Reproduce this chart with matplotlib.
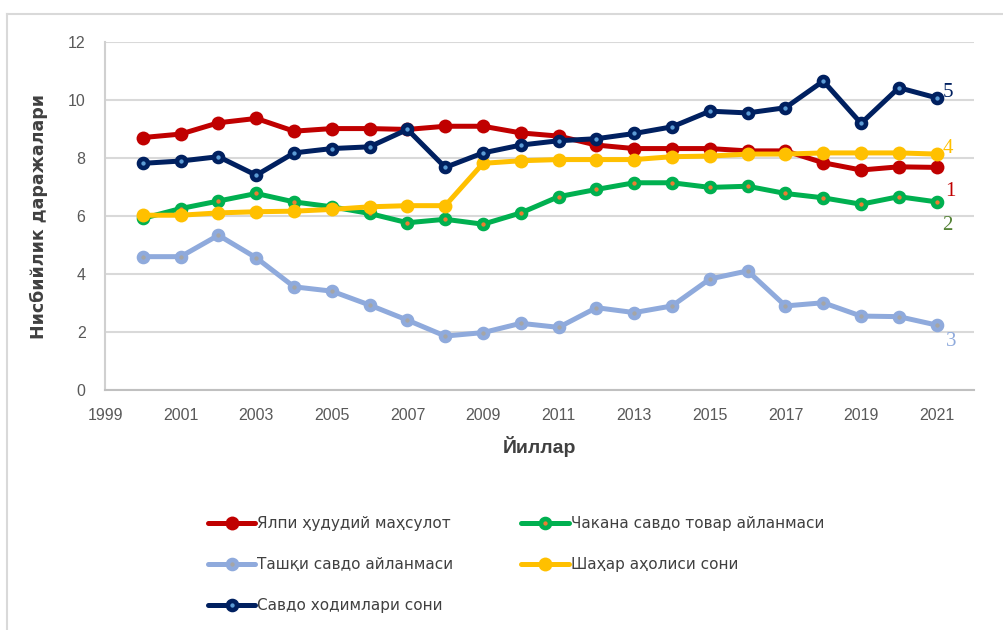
import matplotlib
matplotlib.use('Agg')
import matplotlib.pyplot as plt
from matplotlib.lines import Line2D

plt.rcParams['font.family'] = ['Liberation Sans', 'DejaVu Sans']

years = list(range(2000, 2022))

grp = [8.71, 8.83, 9.22, 9.37, 8.93, 9.02, 9.02, 8.99, 9.10, 9.10, 8.87,
       8.76, 8.45, 8.33, 8.33, 8.33, 8.25, 8.25, 7.84, 7.59, 7.70, 7.68]
retail = [5.92, 6.26, 6.52, 6.78, 6.49, 6.32, 6.09, 5.77, 5.89, 5.72, 6.11,
          6.67, 6.92, 7.15, 7.15, 6.99, 7.03, 6.78, 6.63, 6.41, 6.67, 6.49]
foreign = [4.60, 4.60, 5.34, 4.56, 3.56, 3.41, 2.93, 2.41, 1.86, 1.98, 2.30,
           2.16, 2.84, 2.67, 2.90, 3.83, 4.11, 2.90, 3.01, 2.55, 2.53, 2.24]
urban = [6.03, 6.03, 6.11, 6.15, 6.17, 6.23, 6.32, 6.36, 6.36, 7.82, 7.91,
         7.95, 7.95, 7.95, 8.05, 8.07, 8.14, 8.14, 8.18, 8.18, 8.18, 8.14]
staff = [7.82, 7.90, 8.05, 7.41, 8.18, 8.33, 8.39, 8.99, 7.68, 8.18, 8.45,
         8.60, 8.67, 8.85, 9.08, 9.62, 9.56, 9.74, 10.66, 9.20, 10.43, 10.08]

names = ['Ялпи ҳудудий маҳсулот', 'Чакана савдо товар айланмаси',
         'Ташқи савдо айланмаси', 'Шаҳар аҳолиси сони', 'Савдо ходимлари сони']
end_labels = ['1', '2', '3', '4', '5']
series = [grp, retail, foreign, urban, staff]

colors = ['#C00000', '#00B050', '#8FAADC', '#FFC000', '#002060']
inner = [None, '#ED7D31', '#A5A5A5', None, '#5B9BD5']
label_colors = ['#C00000', '#548235', '#8FAADC', '#FFC000', '#002060']
label_offsets = [(6, -17), (4, -17), (7, -12), (4, 4), (4, 4)]

fig = plt.figure(figsize=(10.04, 6.30), dpi=100)
ax = fig.add_axes([0.1046, 0.381, 0.866, 0.552])

handles = []
for i, vals in enumerate(series):
    if inner[i] is None:
        kw = dict(marker='o', ms=10, mfc=colors[i], mec=colors[i], mew=0)
    else:
        kw = dict(marker='o', ms=6.5, mfc=inner[i], mec=colors[i], mew=3.3)
    h, = ax.plot(years, vals, color=colors[i], lw=3.6, zorder=3 + i,
                 solid_joinstyle='round', solid_capstyle='round', **kw)
    handles.append(h)
    ax.annotate(end_labels[i], (years[-1], vals[-1]), xytext=label_offsets[i],
                textcoords='offset points', ha='left', va='center',
                fontsize=15, color=label_colors[i], family='Liberation Serif')

ax.set_xlim(1999, 2022)
ax.set_ylim(0, 12)
ax.set_xticks(range(1999, 2022, 2))
ax.set_yticks(range(0, 13, 2))
ax.grid(axis='y', color='#D9D9D9', lw=1.5)
ax.set_axisbelow(True)
for s in ['top', 'right']:
    ax.spines[s].set_visible(False)
ax.spines['left'].set_color('#D0D0D0')
ax.spines['bottom'].set_color('#C0C0C0')
ax.spines['left'].set_linewidth(1.5)
ax.spines['bottom'].set_linewidth(1.5)
ax.tick_params(length=0, labelsize=11.5, labelcolor='#595959')
ax.tick_params(axis='y', pad=14)
ax.tick_params(axis='x', pad=13)

ax.set_ylabel('Нисбийлик даражалари', fontsize=12.5, color='#404040',
              fontweight='bold', family='DejaVu Sans', labelpad=14)
ax.set_xlabel('Йиллар', fontsize=14, color='#404040', fontweight='bold', labelpad=9)

order = [0, 2, 4, 1, 3]
fig.legend([handles[k] for k in order], [names[k] for k in order],
           loc='center', bbox_to_anchor=(0.514, 0.104), ncol=2, frameon=False,
           labelcolor='#404040', handlelength=3.1,
           handletextpad=0.12, labelspacing=1.7, columnspacing=4.45,
           prop={'family': 'DejaVu Sans', 'size': 11})

# outer chart border
fig.add_artist(Line2D([7 / 1004, 1], [1 - 14 / 630] * 2, color='#D9D9D9', lw=1.5))
fig.add_artist(Line2D([7 / 1004] * 2, [0, 1 - 14 / 630], color='#D9D9D9', lw=1.5))

fig.savefig('out.png', dpi=100)
